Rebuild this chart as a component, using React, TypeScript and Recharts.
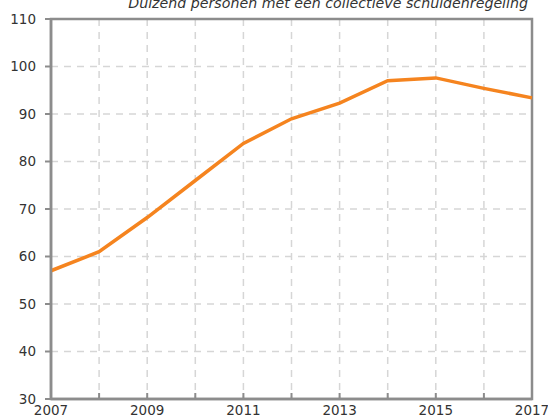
import { LineChart, Line, XAxis, YAxis, CartesianGrid, ReferenceArea } from 'recharts';

const years = [2007, 2008, 2009, 2010, 2011, 2012, 2013, 2014, 2015, 2016, 2017];
const personen = [57, 61, 68.2, 76, 83.8, 89, 92.3, 97, 97.6, 95.4, 93.4];
const yTicks = [30, 40, 50, 60, 70, 80, 90, 100, 110];
const labelledYears = [2007, 2009, 2011, 2013, 2015, 2017];

const data = years.map((year, i) => ({ year, personen: personen[i] }));

const AXIS = '#8c8c8c';
const GRID = '#d6d6d6';
const TEXT = '#333333';
const FONT = '"DejaVu Sans", sans-serif';

function YearTick({ x, y, payload }: any) {
  const show = labelledYears.includes(payload.value);
  return (
    <g>
      <line x1={x} x2={x} y1={y} y2={y - 6} stroke={AXIS} strokeWidth={2} />
      {show && (
        <text x={x} y={y + 16} textAnchor="middle" fill={TEXT} fontSize={13.5} fontFamily={FONT}>
          {payload.value}
        </text>
      )}
    </g>
  );
}

export default function App() {
  return (
    <div style={{ position: 'absolute', left: 0, top: 0, width: 548, height: 417, overflow: 'hidden', background: '#fff' }}>
      <svg width={548} height={20} style={{ position: 'absolute', left: 0, top: 0 }}>
        <text x={528} y={8} textAnchor="end" fontStyle="italic" fontSize={14.2} fontFamily={FONT} fill={TEXT}>
          Duizend personen met een collectieve schuldenregeling
        </text>
      </svg>
      <LineChart width={548} height={417} data={data} margin={{ top: 19, right: 16, bottom: 0, left: 0 }}>
        <CartesianGrid stroke={GRID} strokeWidth={1.5} strokeDasharray="7 6" />
        <XAxis
          dataKey="year"
          type="number"
          domain={[2007, 2017]}
          ticks={years}
          interval={0}
          height={18}
          tickSize={0}
          tickMargin={0}
          axisLine={{ stroke: AXIS, strokeWidth: 2.5 }}
          tick={<YearTick />}
        />
        <YAxis
          domain={[30, 110]}
          ticks={yTicks}
          interval={0}
          width={51}
          tickSize={6}
          tickMargin={9}
          axisLine={{ stroke: AXIS, strokeWidth: 2.5 }}
          tickLine={{ stroke: AXIS, strokeWidth: 2 }}
          tick={{ fill: TEXT, fontSize: 13.5, fontFamily: FONT }}
        />
        <ReferenceArea x1={2007} x2={2017} y1={30} y2={110} fill="none" stroke={AXIS} strokeWidth={2.5} />
        <Line
          type="linear"
          dataKey="personen"
          stroke="#f5841f"
          strokeWidth={3.5}
          dot={false}
          isAnimationActive={false}
        />
      </LineChart>
    </div>
  );
}
